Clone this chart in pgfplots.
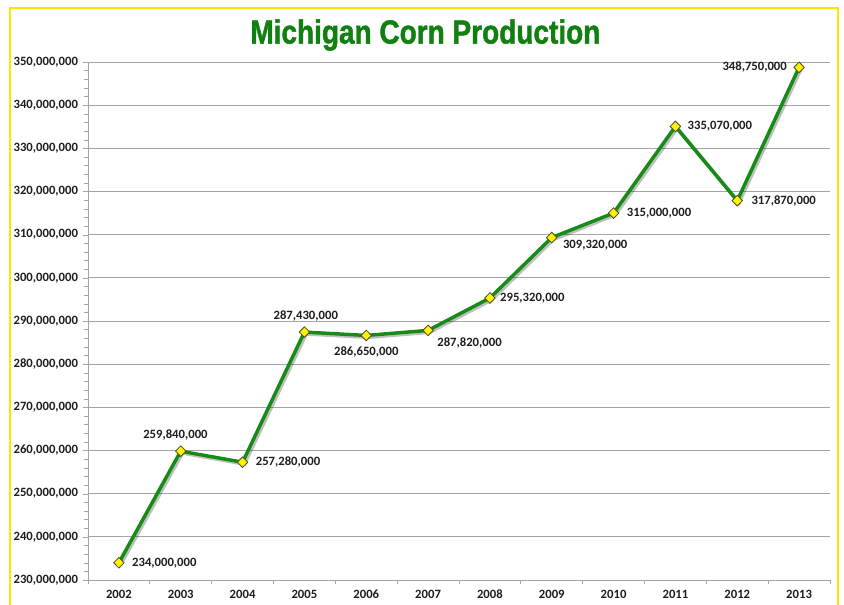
\documentclass[border=0pt]{standalone}
\usepackage{pgfplots}
\pgfplotsset{compat=1.18}
\usepackage{fontspec}
\setmainfont{Carlito}
\newfontfamily\titlefont[BoldFeatures={FakeBold=1.5}]{Liberation Sans}
\definecolor{linegreen}{RGB}{22,140,22}
\definecolor{titlegreen}{RGB}{16,128,16}
\definecolor{frameyellow}{RGB}{255,228,0}
\definecolor{gridgray}{RGB}{165,165,165}
\definecolor{lbltext}{RGB}{30,30,30}
\tikzset{lbl/.style={font=\bfseries\fontsize{9.5}{10}\selectfont, text=lbltext, inner sep=1pt}}
\begin{document}
\begin{tikzpicture}
\path[use as bounding box] (0,0) rectangle (633pt,453.75pt);
\draw[frameyellow, line width=1.5pt] (7.5pt,-2pt) -- (7.5pt,447.75pt) -- (628.5pt,447.75pt) -- (628.5pt,-2pt);
\node[font=\titlefont\bfseries\fontsize{25}{25}\selectfont, text=titlegreen] at (319pt,427.5pt) {\scalebox{0.84}[1]{Michigan Corn Production}};
\begin{axis}[
  at={(66pt,18.75pt)}, anchor=south west,
  width=556.5pt, height=388.5pt, scale only axis,
  xmin=-0.5, xmax=11.5, ymin=230000000, ymax=350000000,
  xtick={0,1,2,3,4,5,6,7,8,9,10,11},
  xticklabels={2002,2003,2004,2005,2006,2007,2008,2009,2010,2011,2012,2013},
  minor xtick={-0.5,0.5,1.5,2.5,3.5,4.5,5.5,6.5,7.5,8.5,9.5,10.5,11.5},
  major x tick style={draw=none},
  ytick={230000000,240000000,250000000,260000000,270000000,280000000,290000000,300000000,310000000,320000000,330000000,340000000,350000000},
  minor y tick num=4,
  scaled y ticks=false,
  yticklabel style={/pgf/number format/fixed, /pgf/number format/1000 sep={,}, /pgf/number format/assume math mode=true},
  tick label style={font=\bfseries\fontsize{9.5}{10}\selectfont, text=lbltext},
  axis x line=bottom, axis y line=left,
  axis line style={gridgray, -},
  ymajorgrids, grid style={gridgray, line width=0.6pt},
  tick align=outside, major tick length=4pt, minor tick length=3pt,
  tick style={gridgray},
  minor x tick style={gridgray, line width=0.6pt},
  clip=false,
]
\addplot[black, opacity=0.25, line width=2.8pt, xshift=1.3pt, yshift=-1.3pt, forget plot] coordinates {
  (0,234000000) (1,259840000) (2,257280000) (3,287430000) (4,286650000) (5,287820000)
  (6,295320000) (7,309320000) (8,315000000) (9,335070000) (10,317870000) (11,348750000)};
\addplot[linegreen, line width=2.6pt, mark=diamond*, mark size=4pt,
  mark options={fill=yellow, draw=black!60!olive, line width=0.6pt, xscale=1.3}] coordinates {
  (0,234000000) (1,259840000) (2,257280000) (3,287430000) (4,286650000) (5,287820000)
  (6,295320000) (7,309320000) (8,315000000) (9,335070000) (10,317870000) (11,348750000)};
\node[lbl, anchor=west, xshift=8.75pt] at (axis cs:0,234000000) {234,000,000};
\node[lbl, anchor=south, yshift=7pt, xshift=-4pt] at (axis cs:1,259840000) {259,840,000};
\node[lbl, anchor=west, xshift=8.75pt] at (axis cs:2,257280000) {257,280,000};
\node[lbl, anchor=south, yshift=7pt, xshift=1pt] at (axis cs:3,287430000) {287,430,000};
\node[lbl, anchor=north, yshift=-7pt] at (axis cs:4,286650000) {286,650,000};
\node[lbl, anchor=north west, xshift=5.75pt, yshift=-4pt] at (axis cs:5,287820000) {287,820,000};
\node[lbl, anchor=west, xshift=6.5pt] at (axis cs:6,295320000) {295,320,000};
\node[lbl, anchor=west, xshift=7.25pt, yshift=-6pt] at (axis cs:7,309320000) {309,320,000};
\node[lbl, anchor=west, xshift=8.75pt] at (axis cs:8,315000000) {315,000,000};
\node[lbl, anchor=west, xshift=8pt] at (axis cs:9,335070000) {335,070,000};
\node[lbl, anchor=west, xshift=9.5pt] at (axis cs:10,317870000) {317,870,000};
\node[lbl, anchor=east, xshift=-8pt] at (axis cs:11,348750000) {348,750,000};
\end{axis}
\end{tikzpicture}
\end{document}
